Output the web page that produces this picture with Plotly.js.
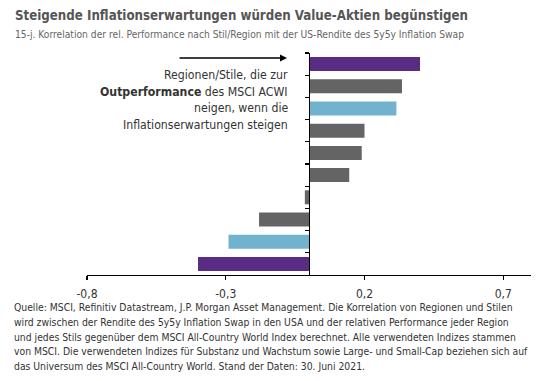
<!DOCTYPE html>
<html>
<head>
<meta charset="utf-8">
<script src="https://cdn.plot.ly/plotly-3.0.1.min.js"></script>
<style>html,body{margin:0;padding:0;background:#fff;}#chart{width:560px;height:381px;}</style>
</head>
<body>
<div id="chart"></div>
<script>
// Data (top to bottom)
const categories = ["R1","R2","R3","R4","R5","R6","R7","R8","R9","R10"];
const values = [0.40, 0.335, 0.315, 0.20, 0.19, 0.145, -0.015, -0.18, -0.29, -0.40];
const barGroups = ["purple","gray","blue","gray","gray","gray","gray","gray","blue","purple"];
const xTickVals = [-0.8, -0.3, 0.2, 0.7];
const xTickText = ["-0,8", "-0,3", "0,2", "0,7"];
const titleText = "Steigende Inflationserwartungen würden Value-Aktien begünstigen";
const subtitleText = "15-j. Korrelation der rel. Performance nach Stil/Region mit der US-Rendite des 5y5y Inflation Swap";
const calloutLines = ["Regionen/Stile, die zur", "<b>Outperformance</b> des MSCI ACWI", "neigen, wenn die", "Inflationserwartungen steigen"];
const footerLines = [
  "Quelle: MSCI, Refinitiv Datastream, J.P. Morgan Asset Management. Die Korrelation von Regionen und Stilen",
  "wird zwischen der Rendite des 5y5y Inflation Swap in den USA und der relativen Performance jeder Region",
  "und jedes Stils gegenüber dem MSCI All-Country World Index berechnet. Alle verwendeten Indizes stammen",
  "von MSCI. Die verwendeten Indizes für Substanz und Wachstum sowie Large- und Small-Cap beziehen sich auf",
  "das Universum des MSCI All-Country World. Stand der Daten: 30. Juni 2021."
];

const palette = {purple: "#5a2d84", gray: "#646464", blue: "#71b2cf"};
const FONT = "'Liberation Sans Narrow', 'DejaVu Sans Condensed', 'Open Sans', sans-serif";

const trace = {
  type: "bar",
  orientation: "h",
  y: categories,
  x: values,
  marker: {color: barGroups.map(g => palette[g])},
  hoverinfo: "skip"
};

const xmin = -0.8, xmax = 0.8;
const ML = 87, MR = 29, MT = 53, MB = 106;
const W = 560, H = 381;
const PW = W - ML - MR, PH = H - MT - MB;
const px = x => (x - ML) / PW;
const py = y => 1 - (y - MT) / PH;

const annotations = [
  {xref: "paper", yref: "paper", x: px(13), y: py(16), xanchor: "left", yanchor: "middle",
   text: "<b>" + titleText + "</b>", showarrow: false,
   font: {size: 13.2, color: "#555", family: FONT}},
  {xref: "paper", yref: "paper", x: px(13), y: py(35), xanchor: "left", yanchor: "middle",
   text: subtitleText, showarrow: false,
   font: {size: 10.2, color: "#666", family: FONT}},
  {xref: "paper", yref: "paper", x: px(287), y: py(58), ax: px(178), ay: py(58),
   axref: "paper", ayref: "paper", text: "", showarrow: true, arrowhead: 2, arrowsize: 1, arrowwidth: 1.4, arrowcolor: "#000"}
];
calloutLines.forEach((t, i) => annotations.push({
  xref: "paper", yref: "paper", x: px(290), y: py(75 + i * 16.7), xanchor: "right", yanchor: "middle",
  text: t, showarrow: false, font: {size: 12.2, color: "#333", family: FONT}
}));
footerLines.forEach((t, i) => annotations.push({
  xref: "paper", yref: "paper", x: px(12), y: py(307 + i * 14.8), xanchor: "left", yanchor: "middle",
  text: t, showarrow: false, font: {size: 10.3, color: "#333", family: FONT}
}));

const layout = {
  width: W, height: H,
  margin: {l: ML, r: MR, t: MT, b: MB},
  paper_bgcolor: "#fff", plot_bgcolor: "#fff",
  showlegend: false,
  bargap: 0.37,
  font: {family: FONT, color: "#333"},
  xaxis: {
    range: [xmin, xmax],
    tickvals: xTickVals, ticktext: xTickText,
    showline: true, linecolor: "#000", linewidth: 1.3,
    ticks: "outside", ticklen: 4, tickcolor: "#000", tickwidth: 1.3,
    ticklabelstandoff: 3,
    showgrid: false, zeroline: false,
    tickfont: {size: 12, color: "#333", family: FONT}
  },
  yaxis: {
    type: "category",
    autorange: "reversed",
    anchor: "free",
    position: (0 - xmin) / (xmax - xmin),
    showline: true, linecolor: "#000", linewidth: 1.3,
    ticks: "outside", tickson: "boundaries", ticklen: 4, tickcolor: "#000", tickwidth: 1.3,
    showticklabels: false, showgrid: false, zeroline: false
  },
  annotations: annotations
};

Plotly.newPlot("chart", [trace], layout, {displayModeBar: false, staticPlot: true});
</script>
</body>
</html>
